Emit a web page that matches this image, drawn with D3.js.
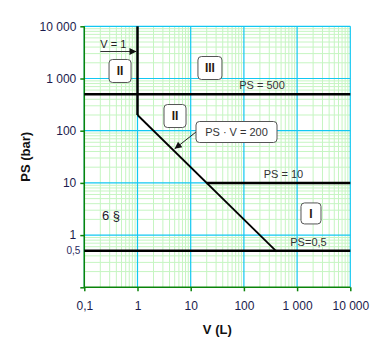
<!DOCTYPE html>
<html><head><meta charset="utf-8">
<script src="https://cdn.jsdelivr.net/npm/d3@7/dist/d3.min.js"></script>
<style>
html,body{margin:0;padding:0;background:#fff;}
svg{display:block;font-family:"Liberation Sans",Arial,sans-serif;}
</style></head>
<body>
<svg id="chart" width="391" height="357"></svg>
<script>
// ---- data ----
const xTicks = [0.1, 1, 10, 100, 1000, 10000];
const xTickLabels = ["0,1", "1", "10", "100", "1 000", "10 000"];
const yTicks = [1, 10, 100, 1000, 10000];
const yTickLabels = ["1", "10", "100", "1 000", "10 000"];
const yExtraTick = [0.5];
const yExtraTickLabel = ["0,5"];
const xTitle = "V (L)";
const yTitle = "PS (bar)";

// boundary lines [V, PS]
const lineV1 = [[1, 10000], [1, 200]];
const linePS500 = [[0.1, 500], [10000, 500]];
const linePSV200 = [[1, 200], [400, 0.5]];
const linePS10 = [[20, 10], [10000, 10]];
const linePS05 = [[0.1, 0.5], [10000, 0.5]];

// category boxes [label, V, PS]
const categoryLabels = ["II", "III", "II", "I"];
const categoryV = [0.47, 23, 5.07, 1824];
const categoryPS = [1393, 1589, 191, 2.6];

// annotations
const annoTexts = ["PS = 500", "PS = 10", "PS=0,5"];
const annoV = [219, 554, 1637];
const annoPS = [500, 10, 0.5];
const articleText = "6 §";
const articleAt = [0.318, 1.95];
const v1Text = "V = 1";
const v1ArrowFrom = [0.2, 3290];
const v1ArrowTo = [1, 3290];
const calloutText = "PS · V = 200";
const calloutAt = [72.6, 94.4];
const calloutPointer = [5.0, 45];

// ---- chart ----
const svg = d3.select("#chart");
const x = d3.scaleLog().domain([0.1, 10000]).range([84.3, 350.3]);
const y = d3.scaleLog().domain([0.1, 10000]).range([287.3, 26.3]);

const defs = svg.append("defs");
defs.append("marker").attr("id", "arr").attr("viewBox", "0 0 10 10")
  .attr("refX", 10).attr("refY", 5).attr("markerWidth", 9).attr("markerHeight", 7)
  .attr("markerUnits", "userSpaceOnUse").attr("orient", "auto")
  .append("path").attr("d", "M0,0L10,5L0,10z").attr("fill", "#111");

// minor grid
const minors = [];
for (let e = -1; e < 4; e++) for (let k = 2; k <= 9; k++) minors.push(k * Math.pow(10, e));
const g = svg.append("g");
g.selectAll(".mx").data(minors).join("line")
  .attr("x1", d => x(d)).attr("x2", d => x(d)).attr("y1", y(10000)).attr("y2", y(0.1))
  .attr("stroke", "#c6f5c2").attr("stroke-width", 1);
g.selectAll(".my").data(minors).join("line")
  .attr("y1", d => y(d)).attr("y2", d => y(d)).attr("x1", x(0.1)).attr("x2", x(10000))
  .attr("stroke", "#c6f5c2").attr("stroke-width", 1);
// major grid
g.selectAll(".Mx").data(xTicks).join("line")
  .attr("x1", d => x(d)).attr("x2", d => x(d)).attr("y1", y(10000)).attr("y2", y(0.1))
  .attr("stroke", "#12c8f2").attr("stroke-width", 1.2);
g.selectAll(".My").data(yTicks).join("line")
  .attr("y1", d => y(d)).attr("y2", d => y(d)).attr("x1", x(0.1)).attr("x2", x(10000))
  .attr("stroke", "#12c8f2").attr("stroke-width", 1.2);

// axes
const xAxis = d3.axisBottom(x).tickValues(xTicks).tickFormat((d, i) => xTickLabels[i]).tickSize(4).tickPadding(10);
const yAxis = d3.axisLeft(y).tickValues([0.1].concat(yTicks)).tickFormat(d => { const i = yTicks.indexOf(d); return i >= 0 ? yTickLabels[i] : ""; }).tickSize(4).tickPadding(4);
const gx = svg.append("g").attr("transform", `translate(0,${y(0.1)})`).call(xAxis);
const gy = svg.append("g").attr("transform", `translate(${x(0.1)},0)`).call(yAxis);
[gx, gy].forEach(a => {
  a.select(".domain").attr("stroke", "#0a840a").attr("stroke-width", 1.5);
  a.selectAll(".tick line").attr("stroke", "#0a840a").attr("stroke-width", 1.5);
  a.selectAll(".tick text").attr("fill", "#1b1b4d").style("font-size", "12px").style("font-family", "Liberation Sans, Arial, sans-serif");
});
gx.select(".domain").attr("d", `M${x(0.1)},0H${x(10000)}`);
gy.select(".domain").attr("d", `M0,${y(0.1)}V${y(10000)}`);
svg.append("text").attr("x", x(0.1) - 4).attr("y", y(yExtraTick[0])).attr("dy", "0.35em")
  .attr("text-anchor", "end").attr("fill", "#2a2a60").style("font-size", "10px").text(yExtraTickLabel[0]);

// titles
svg.append("text").attr("x", (x(0.1) + x(10000)) / 2).attr("y", 334).attr("text-anchor", "middle")
  .style("font-size", "13px").style("font-weight", "bold").attr("fill", "#111").text(xTitle);
svg.append("text").attr("transform", `translate(30,${(y(0.1) + y(10000)) / 2}) rotate(-90)`).attr("text-anchor", "middle")
  .style("font-size", "13px").style("font-weight", "bold").attr("fill", "#111").text(yTitle);

// boundary lines
const line = d3.line().x(d => x(d[0])).y(d => y(d[1]));
[[lineV1, 2.5], [linePS500, 2.5], [linePS10, 2.5], [linePS05, 2.5], [linePSV200, 1.8]].forEach(([pts, w]) => {
  svg.append("path").attr("d", line(pts)).attr("fill", "none").attr("stroke", "#000").attr("stroke-width", w);
});

// annotation texts
annoTexts.forEach((t, i) => {
  svg.append("text").attr("x", x(annoV[i])).attr("y", y(annoPS[i]) - 5).attr("text-anchor", "middle")
    .style("font-size", "11px").attr("fill", "#333").text(t);
});
svg.append("text").attr("x", x(articleAt[0])).attr("y", y(articleAt[1])).attr("text-anchor", "middle")
  .style("font-size", "13px").attr("fill", "#1a1a2a").text(articleText);

// V=1 arrow
svg.append("text").attr("x", x(v1ArrowFrom[0])).attr("y", y(v1ArrowFrom[1]) - 4)
  .style("font-size", "11px").attr("fill", "#222").text(v1Text);
svg.append("line").attr("x1", x(v1ArrowFrom[0])).attr("y1", y(v1ArrowFrom[1]))
  .attr("x2", x(v1ArrowTo[0]) - 1).attr("y2", y(v1ArrowTo[1]))
  .attr("stroke", "#333").attr("stroke-width", 1).attr("marker-end", "url(#arr)");

// category boxes
categoryLabels.forEach((t, i) => {
  const cx = x(categoryV[i]), cy = y(categoryPS[i]);
  const w = t.length >= 3 ? 24 : (t.length === 2 ? 22 : 20), h = t.length === 1 ? 21 : 23;
  svg.append("rect").attr("x", cx - w / 2).attr("y", cy - h / 2).attr("width", w).attr("height", h)
    .attr("rx", 3.5).attr("fill", "#fff").attr("stroke", "#555").attr("stroke-width", 1);
  svg.append("text").attr("x", cx).attr("y", cy).attr("dy", "0.36em").attr("text-anchor", "middle")
    .style("font-size", "12px").style("font-weight", "bold").attr("fill", "#2a1a10").text(t);
});

// callout
const cbx = x(calloutAt[0]), cby = y(calloutAt[1]);
const cw = 81, ch = 21;
svg.append("line").attr("x1", cbx - cw / 2).attr("y1", cby)
  .attr("x2", x(calloutPointer[0])).attr("y2", y(calloutPointer[1]))
  .attr("stroke", "#222").attr("stroke-width", 1).attr("marker-end", "url(#arr)");
svg.append("rect").attr("x", cbx - cw / 2).attr("y", cby - ch / 2).attr("width", cw).attr("height", ch)
  .attr("rx", 3.5).attr("fill", "#fff").attr("stroke", "#555").attr("stroke-width", 1);
svg.append("text").attr("x", cbx).attr("y", cby).attr("dy", "0.36em").attr("text-anchor", "middle")
  .style("font-size", "11px").attr("fill", "#333").text(calloutText);
</script>
</body></html>
